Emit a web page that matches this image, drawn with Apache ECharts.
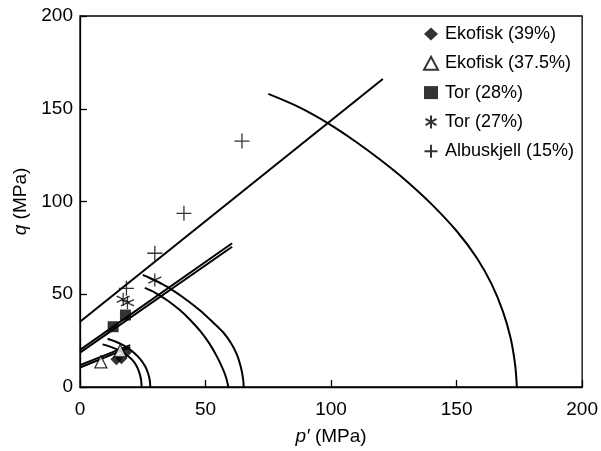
<!DOCTYPE html>
<html>
<head>
<meta charset="utf-8">
<script src="https://cdn.jsdelivr.net/npm/echarts@6/dist/echarts.min.js"></script>
<style>
  html, body { margin: 0; padding: 0; background: #fff; }
  #chart { width: 601px; height: 451px; }
</style>
</head>
<body>
<div id="chart"></div>
<script>
// legend names
const seriesNames = ['Ekofisk (39%)', 'Ekofisk (37.5%)', 'Tor (28%)', 'Tor (27%)', 'Albuskjell (15%)'];

// test points [p', q]
const ekofisk39 = [[14.5, 15], [16.5, 15.5], [18.5, 19]];
const ekofisk375 = [[8.3, 13.5], [16, 19.5]];
const tor28 = [[13.2, 32.5], [18.1, 38.8]];
const tor27 = [[17.2, 47.3], [18.9, 45.4], [29.8, 57.7]];
const albuskjell = [[18.5, 53.2], [29.8, 72.1], [41.4, 93.6], [64.5, 132.6]];

// failure lines
const albLine = [[0, 35.2], [120.6, 166]];
const torLineA = [[0, 20], [60.6, 77.5]];
const torLineB = [[0, 18.5], [60.6, 75.6]];
const ekoLineA = [[0, 11.8], [20, 22.6]];
const ekoLineB = [[0, 10.5], [20, 21.5]];

// caps
const albCap = [[75, 158], [87, 151], [99, 142], [110, 132.1], [120, 122.1], [130, 111.1], [140, 98.6],
    [150, 84.1], [158, 69.7], [164, 55.3], [168.5, 40.5], [171.5, 26.4], [173.3, 12], [174, 0]];
const torCapOuter = [[25, 60.4], [30, 57.3], [35.7, 53.2], [41, 48.4], [47.6, 41.5], [53, 34.8], [57, 29.5],
    [60, 24], [62.5, 17.5], [64.2, 10], [65, 4], [65.2, 0]];
const torCapInner = [[25.8, 53.4], [30, 50.8], [35, 46.5], [40, 41.2], [44, 36], [48, 30], [51.5, 23.5],
    [54.5, 16.5], [56.8, 10], [58.2, 5], [59.1, 0]];
const ekoCapOuter = [[11, 26], [15, 24], [18.5, 21.5], [21.5, 18.5], [24, 15], [26, 11], [27.2, 7], [27.8, 3.5], [28, 0]];
const ekoCapInner = [[9, 23], [12.5, 21.5], [16, 19.5], [19, 16.8], [21.5, 13.5], [23, 10], [24, 6], [24.4, 3], [24.5, 0]];

const xTicks = [0, 50, 100, 150, 200];
const yTicks = [0, 50, 100, 150, 200];

const chart = echarts.init(document.getElementById('chart'));
const font = 'Liberation Sans, Arial, sans-serif';

function curve(data, smooth) {
    return {
        type: 'line',
        data: data,
        showSymbol: false,
        smooth: smooth ? 0.3 : false,
        silent: true,
        lineStyle: { color: '#000', width: 2 },
        z: 1
    };
}

const asteriskPath = 'path://M5,0L5,10M0.8,2.6L9.2,7.4M0.8,7.4L9.2,2.6';
const plusPath = 'path://M0,5L10,5M5,0L5,10';

const option = {
    animation: false,
    backgroundColor: '#fff',
    grid: { left: 80, right: 17, top: 16, bottom: 64, show: true, borderColor: '#000', borderWidth: 1.3 },
    legend: {
        orient: 'vertical',
        left: 417,
        top: 20,
        itemWidth: 14,
        itemHeight: 13,
        itemGap: 11.3,
        data: seriesNames,
        textStyle: { fontSize: 18, fontFamily: font, color: '#000', lineHeight: 18, padding: [0, 0, 0, 2] }
    },
    xAxis: {
        type: 'value',
        min: 0, max: 200, interval: 50,
        name: '{i|p′} (MPa)',
        nameLocation: 'middle',
        nameGap: 40,
        nameTextStyle: { fontSize: 19, fontFamily: font, color: '#000', rich: { i: { fontStyle: 'italic', fontSize: 19, fontFamily: font } } },
        axisLine: { lineStyle: { color: '#000', width: 1.3 } },
        axisTick: { inside: true, length: 7, lineStyle: { color: '#000', width: 1.3 } },
        axisLabel: { fontSize: 19, fontFamily: font, color: '#000', margin: 13,
            formatter: v => xTicks.includes(v) ? String(v) : '' },
        splitLine: { show: false }
    },
    yAxis: {
        type: 'value',
        min: 0, max: 200, interval: 50,
        name: '{i|q} (MPa)',
        nameLocation: 'middle',
        nameGap: 34,
        nameTextStyle: { fontSize: 19, fontFamily: font, color: '#000', rich: { i: { fontStyle: 'italic', fontSize: 19, fontFamily: font } } },
        axisLine: { lineStyle: { color: '#000', width: 1.3 } },
        axisTick: { inside: true, length: 7, lineStyle: { color: '#000', width: 1.3 } },
        axisLabel: { fontSize: 19, fontFamily: font, color: '#000', margin: 7,
            formatter: v => yTicks.includes(v) ? String(v) : '' },
        splitLine: { show: false }
    },
    series: [
        curve(albLine), curve(torLineA), curve(torLineB), curve(ekoLineA), curve(ekoLineB),
        curve(albCap, true), curve(torCapOuter, true), curve(torCapInner, true),
        curve(ekoCapOuter, true), curve(ekoCapInner, true),
        {
            name: seriesNames[0], type: 'scatter', data: ekofisk39,
            symbol: 'diamond', symbolSize: 12,
            itemStyle: { color: '#000' }, z: 3
        },
        {
            name: seriesNames[1], type: 'scatter', data: ekofisk375,
            symbol: 'triangle', symbolSize: 12,
            itemStyle: { color: '#fff', borderColor: '#000', borderWidth: 1.3 }, z: 3
        },
        {
            name: seriesNames[2], type: 'scatter', data: tor28,
            symbol: 'rect', symbolSize: 11,
            itemStyle: { color: '#000' }, z: 3
        },
        {
            name: seriesNames[3], type: 'scatter', data: tor27,
            symbol: asteriskPath, symbolSize: 13,
            itemStyle: { color: 'none', borderColor: '#000', borderWidth: 1.3 }, z: 3
        },
        {
            name: seriesNames[4], type: 'scatter', data: albuskjell,
            symbol: plusPath, symbolSize: 15,
            itemStyle: { color: 'none', borderColor: '#000', borderWidth: 1.3 }, z: 3
        }
    ]
};

chart.setOption(option);
</script>
</body>
</html>
